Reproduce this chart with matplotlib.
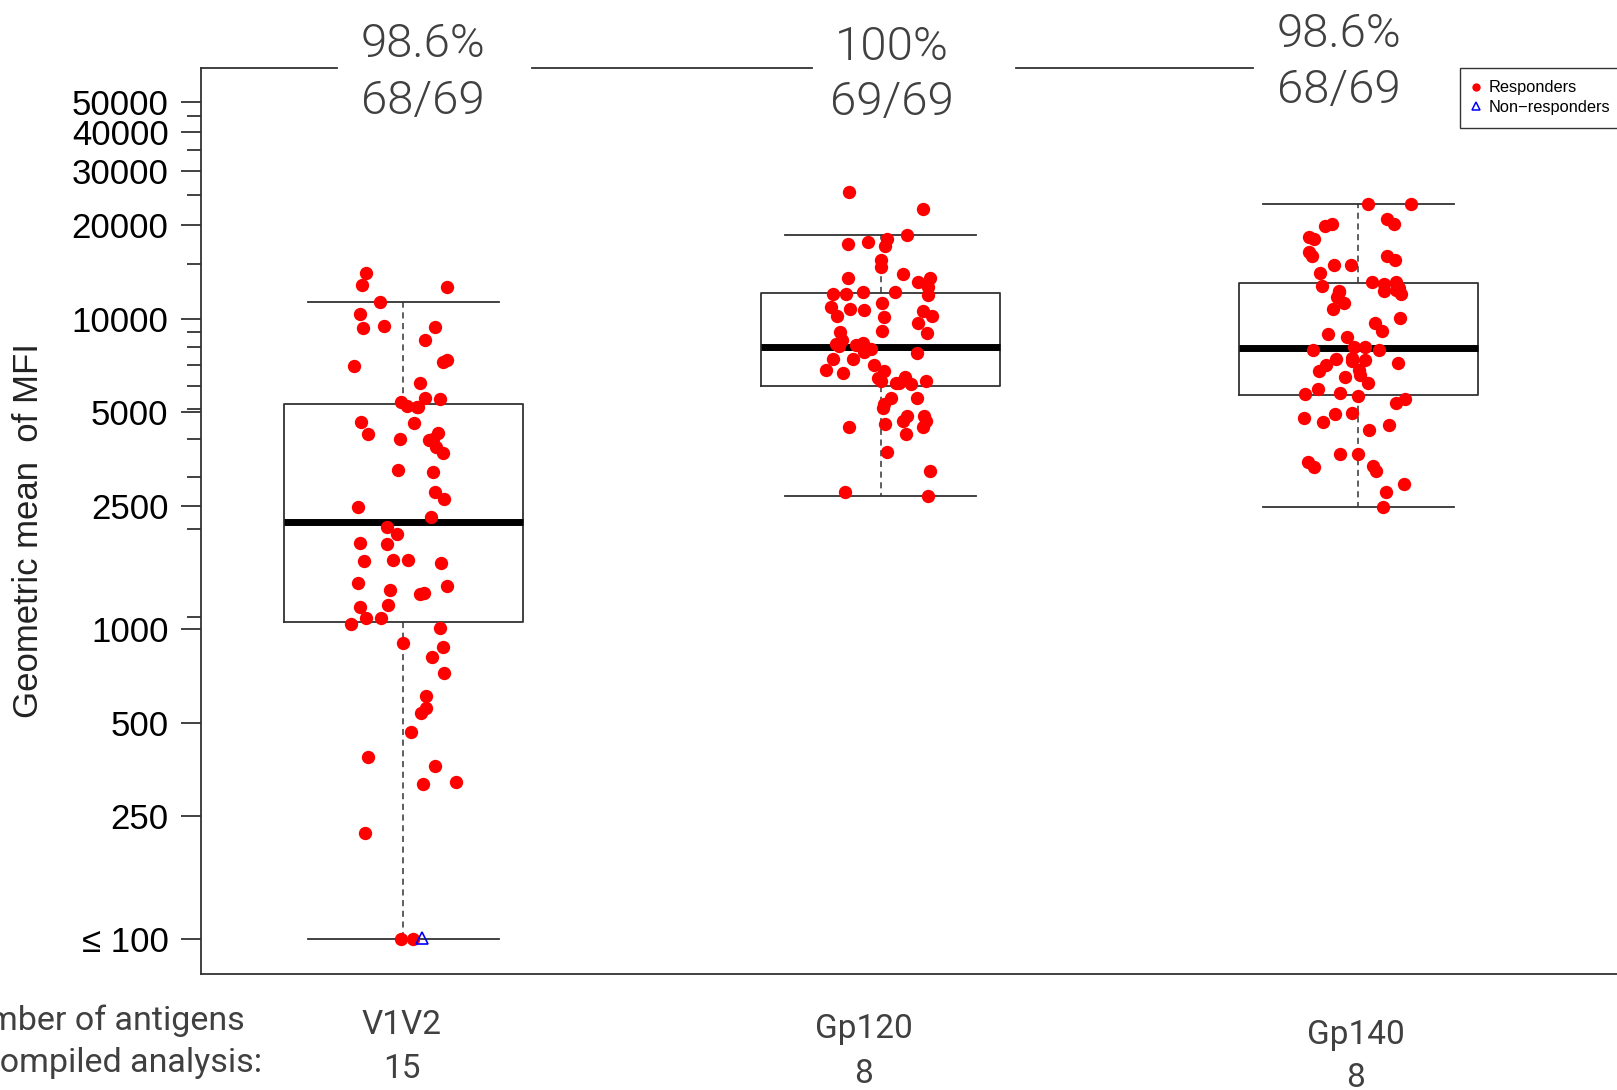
import numpy as np
import matplotlib
matplotlib.use("Agg")
import matplotlib.pyplot as plt
from matplotlib.lines import Line2D

groups = ["V1V2", "Gp120", "Gp140"]
n_antigens = ["15", "8", "8"]
pct = ["98.6%", "100%", "98.6%"]
counts = ["68/69", "69/69", "68/69"]

# box stats (lower whisker, q1, median, q3, upper whisker)
whislo = [100, 2680, 2470]
q1 = [1055, 6080, 5680]
med = [2216, 8130, 8070]
q3 = [5300, 12110, 13070]
whishi = [11300, 18580, 23380]

# responders: horizontal jitter and geometric mean MFI
v1v2_jit = [-0.078, -0.086, 0.091, -0.048, -0.090, -0.084, -0.040, 0.066, 0.046, -0.102,
            0.083, 0.091, 0.036, -0.004, 0.008, 0.028, 0.046, 0.078, -0.088, -0.074,
            0.022, -0.006, 0.072, 0.062, 0.068, 0.083, -0.010, 0.062, 0.066, 0.086,
            -0.094, 0.059, -0.034, -0.012, -0.091, -0.034, -0.083, -0.022, 0.010, 0.079,
            -0.094, -0.028, 0.036, 0.043, 0.091, -0.091, -0.032, -0.110, -0.078, -0.046,
            0.078, 0.000, 0.084, 0.060, 0.086, 0.048, 0.048, 0.038, 0.016, -0.074,
            0.066, 0.042, 0.110, -0.080, -0.004, 0.020, 0.054, 0.032]
v1v2_val = [14070, 12840, 12620, 11340, 10350, 9310, 9500, 9425, 8540, 7040,
            7270, 7360, 6190, 5400, 5230, 5180, 5540, 5500, 4660, 4250,
            4625, 4095, 4270, 4095, 3870, 3700, 3255, 3200, 2770, 2625,
            2480, 2300, 2140, 2025, 1900, 1880, 1660, 1670, 1670, 1630,
            1410, 1340, 1300, 1310, 1380, 1180, 1195, 1040, 1083, 1083,
            1006, 900, 878, 815, 720, 609, 555, 535, 465, 388,
            363, 317, 322, 220, 100, 100, 4065, 5210]

gp120_jit = [-0.066, 0.089, 0.056, -0.068, -0.027, 0.013, 0.009, 0.000, 0.000, -0.068,
             0.047, 0.078, 0.103, 0.100, 0.099, -0.100, -0.073, -0.037, 0.030, -0.105,
             -0.064, -0.035, -0.091, 0.002, 0.007, 0.002, 0.089, 0.108, 0.078, 0.098,
             -0.086, -0.082, -0.087, -0.052, -0.038, -0.021, -0.035, 0.077, -0.100, -0.059,
             -0.115, -0.078, -0.014, 0.007, -0.006, 0.031, 0.050, 0.063, 0.094, 0.022,
             0.007, 0.005, 0.075, 0.056, 0.047, 0.091, 0.089, 0.054, 0.009, -0.066,
             0.014, 0.103, -0.075, 0.100, -0.094, -0.028, 0.000, 0.038, 0.094]
gp120_val = [25650, 22500, 18610, 17400, 17710, 18020, 17190, 15460, 14640, 13560,
             13900, 13160, 13560, 12620, 11920, 11980, 11980, 12220, 12220, 10910,
             10730, 10700, 10190, 11240, 10090, 9140, 10570, 10210, 9700, 9000,
             9070, 8570, 8150, 8210, 8360, 8010, 7820, 7780, 7400, 7400,
             6860, 6690, 7080, 6790, 6460, 6210, 6490, 6150, 6300, 5540,
             5310, 5140, 5540, 4860, 4690, 4860, 4490, 4250, 4580, 4470,
             3710, 3240, 2770, 2690, 8310, 8000, 6320, 6190, 4690]

gp140_jit = [0.020, 0.110, 0.061, 0.075, -0.070, -0.054, -0.102, -0.092, -0.104, -0.097,
             -0.050, -0.015, 0.061, 0.077, -0.080, -0.075, 0.029, 0.054, 0.079, 0.054,
             0.086, 0.089, -0.041, -0.045, -0.029, -0.052, 0.087, 0.036, 0.050, -0.064,
             -0.024, -0.094, -0.008, 0.014, 0.044, -0.047, -0.068, -0.083, -0.012, 0.015,
             0.002, 0.003, -0.028, 0.020, 0.084, -0.085, -0.112, -0.038, 0.000, 0.079,
             0.098, -0.113, -0.073, -0.048, -0.014, 0.023, 0.064, -0.106, -0.093, -0.038,
             0.000, 0.030, 0.038, 0.096, 0.059, 0.052, -0.040, 0.079, -0.012]
gp140_val = [23420, 23420, 20950, 20190, 19940, 20190, 18380, 18020, 16440, 15920,
             14890, 14890, 15920, 15460, 14000, 12750, 13100, 12940, 13160, 12310,
             12530, 12010, 12310, 11780, 11210, 10720, 10080, 9710, 9150, 8930,
             8710, 7930, 8090, 8090, 7930, 7420, 7095, 6800, 7310, 7360,
             6840, 6590, 6475, 6190, 7180, 5925, 5720, 5750, 5650, 5365,
             5500, 4800, 4660, 4920, 4980, 4380, 4545, 3445, 3320, 3660,
             3660, 3350, 3230, 2930, 2770, 2480, 12220, 12370, 7450]

# non-responder (V1V2)
nonresp_jit = [0.040]
nonresp_val = [101]

ytick_vals = [100, 250, 500, 1000, 2500, 5000, 10000, 20000, 30000, 40000, 50000]
ytick_labels = ["\u2264 100", "250", "500", "1000", "2500", "5000", "10000",
                "20000", "30000", "40000", "50000"]
yminor_vals = [1096, 2100, 3083, 4097, 5107, 6080, 7090, 8080, 9080,
               15000, 25000, 35000, 45000]

W, H = 1617, 1090
fig = plt.figure(figsize=(W / 100, H / 100), dpi=100)
ax = fig.add_axes([201 / W, 1 - 974 / H, 1 - 201 / W, (974 - 68) / H])

pos = np.arange(1, len(groups) + 1)
stats = []
for i in range(len(groups)):
    stats.append(dict(med=med[i], q1=q1[i], q3=q3[i], whislo=whislo[i], whishi=whishi[i], fliers=[]))

edge = "#333333"
ax.bxp(stats, positions=pos, widths=0.5, capwidths=0.4, showfliers=False,
       boxprops=dict(color=edge, linewidth=1.3),
       medianprops=dict(color="black", linewidth=5, solid_capstyle="butt"),
       whiskerprops=dict(color=edge, linewidth=1.1, linestyle=(0, (4, 3))),
       capprops=dict(color=edge, linewidth=1.3))

for p, jit, val in zip(pos, [v1v2_jit, gp120_jit, gp140_jit], [v1v2_val, gp120_val, gp140_val]):
    ax.plot(p + np.array(jit), val, "o", color="red", ms=9.6, mew=0, zorder=4)
ax.plot(pos[0] + np.array(nonresp_jit), nonresp_val, "^", mfc="none", mec="blue", ms=9, mew=1.2, zorder=5)

ax.set_yscale("log")
ax.set_ylim(77.4, 64230)
ax.set_xlim(1 - (403.2 - 201) / 477.5, 3 + (1617 - 1358.2) / 477.5)
ax.set_yticks(ytick_vals)
ax.set_yticklabels(ytick_labels, fontsize=25, family=["Liberation Sans", "DejaVu Sans"])
ax.set_yticks(yminor_vals, minor=True)
ax.yaxis.set_minor_formatter(matplotlib.ticker.NullFormatter())
ax.tick_params(axis="y", which="major", length=14.4, width=1.3, color=edge, pad=9)
ax.tick_params(axis="y", which="minor", length=10, width=1.3, color=edge)
ax.set_xticks([])
for s in ["top", "right"]:
    ax.spines[s].set_visible(False)
for s in ["left", "bottom"]:
    ax.spines[s].set_color(edge)
    ax.spines[s].set_linewidth(1.3)

# broken top frame line
for x0, x1 in [(201, 337), (532, 812), (1016, 1253)]:
    fig.add_artist(Line2D([x0 / W, x1 / W], [1 - 68 / H, 1 - 68 / H], color=edge, lw=1.3))

fig.text(29 / W, 1 - 531 / H, "Geometric mean  of MFI", rotation=90, ha="center", va="center",
         fontsize=25, family="Liberation Sans", color="#222222")

gray = "#404040"
top_x = [423, 892, 1339]
pct_base = [56.7, 60, 47]
cnt_base = [114, 115, 103]
for i in range(len(groups)):
    fig.text(top_x[i] / W, 1 - pct_base[i] / H, pct[i], ha="center", va="baseline",
             fontsize=34, family="Roboto", weight=300, color=gray)
    fig.text(top_x[i] / W, 1 - cnt_base[i] / H, counts[i], ha="center", va="baseline",
             fontsize=34, family="Roboto", weight=300, color=gray)

lab_x = [402, 864, 1356]
grp_base = [1034, 1038, 1044]
n_base = [1078, 1083, 1087]
for i in range(len(groups)):
    fig.text(lab_x[i] / W, 1 - grp_base[i] / H, groups[i], ha="center", va="baseline",
             fontsize=24, family="Roboto", color=gray)
    fig.text(lab_x[i] / W, 1 - n_base[i] / H, n_antigens[i], ha="center", va="baseline",
             fontsize=24, family="Roboto", color=gray)
fig.text(245 / W, 1 - 1030 / H, "Number of antigens", ha="right", va="baseline",
         fontsize=24.5, family="Roboto", color=gray)
fig.text(262 / W, 1 - 1072 / H, "compiled analysis:", ha="right", va="baseline",
         fontsize=24.5, family="Roboto", color=gray)

handles = [Line2D([], [], marker="o", ls="none", color="red", ms=6, mew=0),
           Line2D([], [], marker="^", ls="none", mfc="none", mec="blue", ms=6, mew=1.1)]
leg = fig.legend(handles, ["Responders", "Non\u2212responders"], loc="upper left",
                 bbox_to_anchor=(1460 / W, 1 - 68 / H), bbox_transform=fig.transFigure,
                 borderaxespad=0, fancybox=False, framealpha=1, edgecolor=edge,
                 handlelength=0.5, handletextpad=0.5, borderpad=0.75, labelspacing=0.3,
                 prop={"family": "Liberation Sans", "size": 11.8})
leg.get_frame().set_linewidth(1.0)

fig.savefig("out.png", dpi=100)
